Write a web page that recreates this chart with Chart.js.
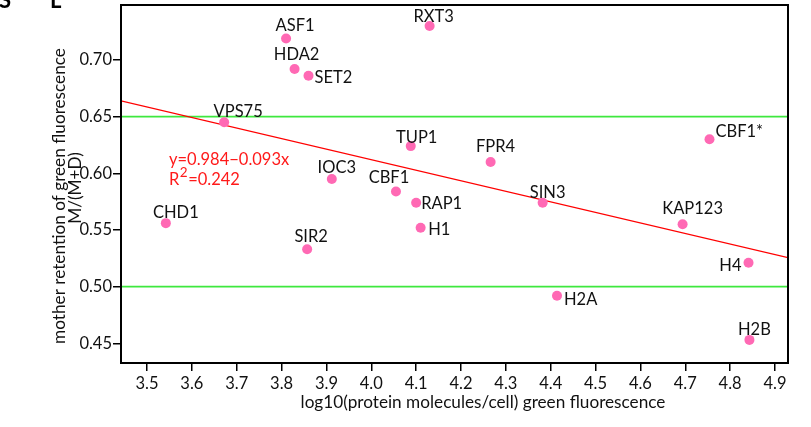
<!DOCTYPE html>
<html>
<head>
<meta charset="utf-8">
<script src="https://cdn.jsdelivr.net/npm/chart.js@4.4.1/dist/chart.umd.min.js"></script>
<style>
  html, body { margin: 0; padding: 0; background: #fff; }
  #wrap { width: 811px; height: 427px; }
</style>
</head>
<body>
<div id="wrap"><canvas id="c" width="811" height="427"></canvas></div>
<script>
// Proteins and their measured values
const proteins = ['ASF1','RXT3','HDA2','SET2','VPS75','TUP1','FPR4','IOC3','CBF1','SIN3',
                  'CBF1*','KAP123','H4','H2A','H2B','RAP1','H1','CHD1','SIR2'];
const log10Molecules = [3.810, 4.130, 3.829, 3.860, 3.672, 4.088, 4.266, 3.912, 4.055, 4.382,
                        4.754, 4.694, 4.841, 4.414, 4.843, 4.100, 4.110, 3.542, 3.857];
const motherRetention = [0.719, 0.730, 0.692, 0.686, 0.645, 0.624, 0.610, 0.595, 0.584, 0.574,
                         0.630, 0.555, 0.521, 0.492, 0.453, 0.574, 0.552, 0.556, 0.533];

// Linear fit reported on the chart
const fitIntercept = 0.984;
const fitSlope = -0.093;
const fitR2 = 0.242;

// Reference levels
const thresholds = [0.65, 0.50];

// Axis ticks
const xTicks = [3.5, 3.6, 3.7, 3.8, 3.9, 4.0, 4.1, 4.2, 4.3, 4.4, 4.5, 4.6, 4.7, 4.8, 4.9];
const yTicks = [0.45, 0.50, 0.55, 0.60, 0.65, 0.70];

// Axis extents
const xMin = 3.442, xMax = 4.929;
const yMin = 0.4326, yMax = 0.7485;

// Where each name sits relative to its dot: [align, dx, dy]
const labelPlacement = {
  'ASF1': ['center', 9, -13], 'RXT3': ['center', 4, -10], 'HDA2': ['center', 2, -15],
  'SET2': ['left', 6, 1], 'VPS75': ['center', 14, -11], 'TUP1': ['center', 6, -9],
  'FPR4': ['center', 5, -16], 'IOC3': ['center', 5, -12], 'CBF1': ['center', -7, -14],
  'SIN3': ['center', 5, -11], 'CBF1*': ['left', 6, -8], 'KAP123': ['center', 10, -16.5],
  'H4': ['right', -7, 2.5], 'H2A': ['left', 7, 3], 'H2B': ['center', 5, -11],
  'RAP1': ['left', 5, 0], 'H1': ['left', 7.5, 1.5], 'CHD1': ['center', 10, -11],
  'SIR2': ['center', 4, -13]
};

const FONT = 'Lato';
const TEXT_SIZE = 16.5;
const TITLE_SIZE = 17.2;
const points = proteins.map((p, i) => ({ x: log10Molecules[i], y: motherRetention[i] }));

const fitLine = [xMin, xMax].map(x => ({ x: x, y: fitIntercept + fitSlope * x }));

const thresholdSets = thresholds.map(t => ({
  type: 'line',
  data: [{ x: xMin, y: t }, { x: xMax, y: t }],
  borderColor: '#3ee83e',
  borderWidth: 1.6,
  pointRadius: 0,
  fill: false,
  order: 3
}));

const frameAndText = {
  id: 'frameAndText',
  afterDatasetsDraw(chart) {
    const ctx = chart.ctx;
    const a = chart.chartArea;
    ctx.save();
    // frame
    ctx.strokeStyle = '#000';
    ctx.lineWidth = 2;
    ctx.strokeRect(a.left, a.top, a.right - a.left, a.bottom - a.top);

    // point names
    const meta = chart.getDatasetMeta(2);
    ctx.fillStyle = '#111';
    ctx.font = TEXT_SIZE + 'px ' + FONT;
    ctx.textBaseline = 'alphabetic';
    proteins.forEach((name, i) => {
      const el = meta.data[i];
      const [align, dx, dy] = labelPlacement[name];
      ctx.textAlign = align;
      ctx.fillText(name, el.x + dx, el.y + dy + 6);
    });

    // fit equation
    ctx.fillStyle = '#ff1a1a';
    ctx.textAlign = 'left';
    ctx.font = TEXT_SIZE + 'px ' + FONT;
    const eq = 'y=' + fitIntercept.toFixed(3) + '\u2212' + Math.abs(fitSlope).toFixed(3) + 'x';
    ctx.fillText(eq, 169, 165);
    ctx.fillText('R', 169, 185);
    const rw = ctx.measureText('R').width;
    ctx.font = '13.5px ' + FONT;
    ctx.fillText('2', 169 + rw + 0.5, 177);
    const w2 = ctx.measureText('2').width;
    ctx.font = TEXT_SIZE + 'px ' + FONT;
    ctx.fillText('=' + fitR2.toFixed(3), 169 + rw + w2 + 1, 185);

    // axis titles
    ctx.fillStyle = '#111';
    ctx.textAlign = 'center';
    ctx.textBaseline = 'middle';
    ctx.font = TITLE_SIZE + 'px ' + FONT;
    ctx.fillText('log10(protein molecules/cell) green fluorescence', 483, 402);
    ctx.rotate(-Math.PI / 2);
    ctx.textBaseline = 'alphabetic';
    // rotated frame: x = -canvasY, y = canvasX
    ctx.fillText('mother retention of green fluorescence', -196, 64.5);
    ctx.fillText('M/(M+D)', -188, 80.5);
    ctx.restore();

    // panel letters at the top edge
    ctx.save();
    ctx.fillStyle = '#000';
    ctx.font = 'bold 22px ' + FONT;
    ctx.textBaseline = 'alphabetic';
    ctx.textAlign = 'left';
    ctx.fillText('S', -1, 8);
    ctx.fillText('L', 50, 8);
    ctx.restore();
  }
};

function noPad(s) {
  s.paddingTop = 0; s.paddingBottom = 0; s.paddingLeft = 0; s.paddingRight = 0;
}

new Chart(document.getElementById('c'), {
  type: 'scatter',
  data: {
    datasets: [
      ...thresholdSets,
      {
        type: 'scatter',
        data: points,
        backgroundColor: '#ff69b4',
        borderWidth: 0,
        pointRadius: 5,
        pointHoverRadius: 5,
        order: 1
      },
      {
        type: 'line',
        data: fitLine,
        borderColor: '#ff0000',
        borderWidth: 1.2,
        pointRadius: 0,
        fill: false,
        order: 2
      }
    ]
  },
  options: {
    responsive: false,
    animation: false,
    events: [],
    layout: { padding: { top: 5, right: 23, left: 0, bottom: 0 } },
    plugins: { legend: { display: false }, tooltip: { enabled: false } },
    scales: {
      x: {
        type: 'linear',
        min: xMin, max: xMax,
        afterBuildTicks: s => { s.ticks = xTicks.map(v => ({ value: v })); },
        afterFit: s => { s.height = 64; noPad(s); },
        ticks: {
          color: '#111', font: { family: FONT, size: TEXT_SIZE }, padding: 3,
          autoSkip: false, maxRotation: 0,
          callback: v => Number(v).toFixed(1)
        },
        grid: { drawOnChartArea: false, drawTicks: true, tickLength: 8, color: '#000', lineWidth: 1.5 },
        border: { display: false }
      },
      y: {
        type: 'linear',
        min: yMin, max: yMax,
        afterBuildTicks: s => { s.ticks = yTicks.map(v => ({ value: v })); },
        afterFit: s => { s.width = 121; noPad(s); },
        ticks: {
          color: '#111', font: { family: FONT, size: TEXT_SIZE }, padding: 1,
          autoSkip: false,
          callback: v => Number(v).toFixed(2)
        },
        grid: { drawOnChartArea: false, drawTicks: true, tickLength: 8, color: '#000', lineWidth: 1.5 },
        border: { display: false }
      }
    }
  },
  plugins: [frameAndText]
});
</script>
</body>
</html>
